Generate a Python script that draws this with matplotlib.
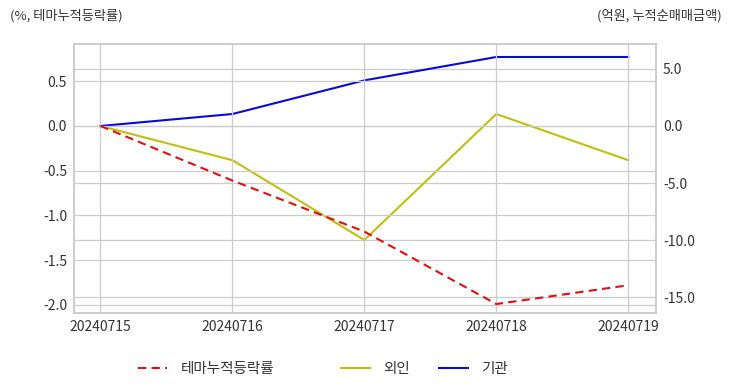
import matplotlib
matplotlib.use("Agg")
import matplotlib.pyplot as plt

plt.rcParams['font.family'] = ['Noto Sans CJK KR', 'DejaVu Sans']

dates = ['20240715', '20240716', '20240717', '20240718', '20240719']
theme_rate = [0.0, -0.61, -1.18, -1.99, -1.78]
foreign = [0.0, -3.0, -10.0, 1.05, -3.0]
institution = [0.0, 1.05, 4.0, 6.05, 6.05]

fig = plt.figure(figsize=(7.32, 3.92), dpi=100)
ax = fig.add_axes([74/732, 1-313/392, (656-74)/732, (313-44)/392])
ax2 = ax.twinx()

grid_c = '#cccccc'
x = list(range(len(dates)))
l1, = ax.plot(x, theme_rate, color='#e01010', linestyle=(0, (4, 2.5)), lw=1.5, label='테마누적등락률')
l2, = ax2.plot(x, foreign, color='#bfbf10', lw=1.5, label='외인')
l3, = ax2.plot(x, institution, color='#0a0ad8', lw=1.5, label='기관')

ax.set_xlim(-0.2, 4.21)
ax.set_ylim(-2.09, 0.916)
ax2.set_ylim(-16.4, 7.19)
ax.set_yticks([0.5, 0.0, -0.5, -1.0, -1.5, -2.0])
ax.set_yticklabels(['0.5', '0.0', '-0.5', '-1.0', '-1.5', '-2.0'])
ax2.set_yticks([5, 0, -5, -10, -15])
ax2.set_yticklabels(['5.0', '0.0', '-5.0', '-10.0', '-15.0'])
ax.set_xticks(x)
ax.set_xticklabels(dates)

for a in (ax, ax2):
    a.grid(True, color=grid_c, lw=0.9)
    a.set_axisbelow(True)
    for s in a.spines.values():
        s.set_color(grid_c)
        s.set_linewidth(1.2)
    a.tick_params(length=0, labelsize=10, colors='#333333', pad=5)
ax2.grid(True, axis='y', color=grid_c, lw=0.9)
ax2.grid(False, axis='x')
ax.set_zorder(ax2.get_zorder() + 1)
ax.patch.set_visible(False)
ax2.patch.set_visible(True)
ax2.patch.set_facecolor('white')

fig.text(10/732, 1-16/392, '(%, 테마누적등락률)', fontsize=9.5, color='#333333', va='center', ha='left')
fig.text(722/732, 1-16/392, '(억원, 누적순매매금액)', fontsize=9.5, color='#333333', va='center', ha='right')

leg_kw = dict(frameon=False, fontsize=10.5, handlelength=2.0, handletextpad=0.9,
              labelcolor='#333333', borderaxespad=0, borderpad=0)
leg1 = fig.legend(handles=[l1], loc='center left', bbox_to_anchor=(138/732, 1-369/392), **leg_kw)
leg2 = fig.legend(handles=[l2, l3], loc='center left', bbox_to_anchor=(341/732, 1-369/392),
                  ncol=2, columnspacing=2.0, **leg_kw)

fig.savefig('out.png', dpi=100)
